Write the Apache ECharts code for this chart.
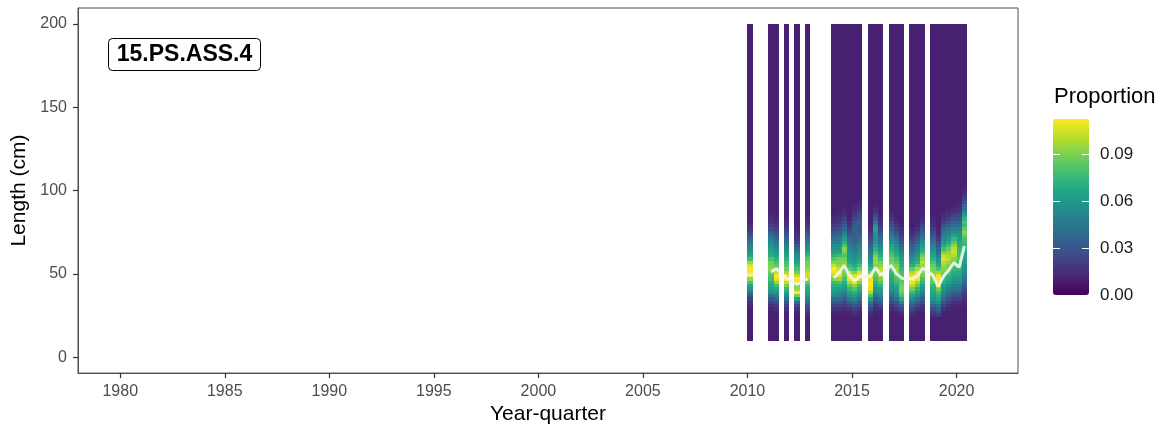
<!DOCTYPE html>
<html><head><meta charset="utf-8">
<script src="https://cdn.jsdelivr.net/npm/echarts@6/dist/echarts.min.js"></script>
<style>html,body{margin:0;padding:0;background:#fff}#c{width:1166px;height:430px}</style>
</head><body><div id="c"></div>
<script>
// ---------------- data ----------------
const quarters = ["2010 Q1","2011 Q1","2011 Q2","2011 Q4","2012 Q2","2012 Q4",
  "2014 Q1","2014 Q2","2014 Q3","2014 Q4","2015 Q1","2015 Q2","2015 Q4","2016 Q1","2016 Q2",
  "2016 Q4","2017 Q1","2017 Q2","2017 Q4","2018 Q1","2018 Q2","2018 Q4","2019 Q1","2019 Q2",
  "2019 Q3","2019 Q4","2020 Q1","2020 Q2"];
// mean length (cm) per quarter (white line)
const meanLength = [49.3, 51.2,53.1,47.2,43.6,47.2,
  47.5,50.5,55.1,49.0,45.8,48.5,48.5,53.8,49.3,
  55.1,50.1,47.4,47.0,48.8,53.3,49.1,42.4,48.6,
  52.2,56.8,53.9,66.7];
// line pieces (line is broken between pieces)
const linePiece = [0, 1,1,1,1,1, 2,2,2,2,2,2,2,2,2, 2,2,2,2,2,2,2,2,2, 2,2,2,2];
// length bins: 2 cm, from 10 to 200 cm
const binWidth = 2, lengthMin = 10, lengthMax = 200;
// proportion (per mille) outside the listed band, per quarter
const tailLevel = [10, 10,10,10,10,10, 10,10,10,10,10,10, 10,10,10, 10,10,10, 10,10,10, 10,10,10,10,10,10,10];
// proportion (per mille) from 24 cm upward in 2 cm bins; beyond the list = tail level
const bandStart = 24;
const q2010_1 = [10,10,11,13,16,20,30,45,58,66,80,95,106,112,112,106,95,78,66,60,55,50,44,36,28,22,17,14,12,11];
const q2011_1 = [10,11,13,16,22,30,42,56,64,68,72,78,82,86,92,90,88,80,70,66,62,58,54,48,40,33,27,22,18,15,13,12];
const q2011_2 = [10,12,15,20,26,36,48,60,68,78,94,108,112,102,92,84,78,72,66,60,56,50,44,38,32,27,22,18,15,13,12];
const q2011_4 = [10,12,16,22,30,42,55,66,74,88,102,112,110,98,88,82,78,72,66,60,54,48,42,37,32,26,21,17,14,12];
const q2012_2 = [10,12,16,25,40,64,88,112,95,90,108,112,100,88,80,72,66,60,54,46,38,30,23,18,15,13,12];
const q2012_4 = [12,16,22,30,40,50,60,66,68,74,84,98,105,102,94,90,88,84,74,66,58,52,46,40,34,28,22,18,15,13,12];
const q2014_1 = [10,12,16,22,30,40,52,60,66,70,76,88,100,110,112,102,92,82,72,64,58,54,48,42,36,30,25,20,16,14,12];
const q2014_2 = [10,12,16,22,30,40,50,58,64,70,80,96,108,112,104,95,90,88,76,66,60,56,50,44,38,32,27,22,18,15,13,12];
const q2014_3 = [10,11,14,18,24,32,42,52,60,66,70,78,86,90,88,94,92,88,80,88,92,80,70,62,54,46,38,32,26,21,17,14,12];
const q2014_4 = [10,12,16,24,34,46,58,66,74,84,98,110,112,100,84,74,68,64,60,56,52,48,44,38,32,26,21,17,14,12];
const q2015_1 = [12,16,22,30,40,52,62,72,82,94,108,112,106,90,76,68,62,58,54,50,46,42,38,34,32,34,36,32,28,24,19,16,13,12];
const q2015_2 = [10,12,16,24,32,42,52,62,70,78,90,106,112,106,90,78,70,64,60,56,52,48,44,40,36,33,30,34,36,30,26,21,17,14,12];
const q2015_4 = [12,16,24,34,46,62,80,98,108,112,112,110,102,88,76,66,60,55,50,45,40,35,30,25,20,16,13,12];
const q2016_1 = [10,11,14,18,24,32,42,52,60,66,72,78,84,88,88,92,96,94,88,80,72,66,60,56,54,60,64,56,44,32,24,18,14,12];
const q2016_2 = [10,12,16,24,32,42,52,60,66,74,82,90,100,104,100,94,88,78,70,64,58,52,46,40,34,28,23,18,15,13,12];
const q2016_4 = [10,11,14,18,24,32,42,50,56,60,64,68,72,76,82,88,90,88,82,76,70,64,58,52,46,40,34,28,23,18,14,12];
const q2017_1 = [10,12,17,24,32,42,52,58,62,68,74,80,86,90,94,90,84,78,72,66,60,54,48,42,35,28,22,18,14,12];
const q2017_2 = [12,16,24,36,52,68,80,86,90,88,84,82,80,78,74,70,66,62,56,50,44,38,32,26,21,17,14,12];
const q2017_4 = [12,16,24,32,42,54,64,76,88,100,110,112,108,98,84,70,62,56,50,44,38,32,26,21,17,14,12];
const q2018_1 = [10,12,17,24,32,42,54,64,72,84,96,110,112,110,98,84,72,66,60,54,48,42,36,30,24,19,15,12];
const q2018_2 = [10,11,14,18,24,32,42,50,58,64,72,80,88,94,92,96,100,94,86,76,68,62,56,48,40,34,28,22,17,14,12];
const q2018_4 = [14,20,28,38,50,58,64,66,70,76,84,88,92,94,90,86,80,72,66,60,54,48,42,36,30,24,19,15,13,12];
const q2019_1 = [20,26,34,44,54,64,70,78,88,100,110,112,110,96,80,68,60,54,48,42,36,30,24,19,16,13,12];
const q2019_2 = [10,12,16,22,30,38,46,54,60,64,70,76,82,88,92,96,100,106,102,90,78,68,60,54,48,42,35,28,22,17,14,12];
const q2019_3 = [10,11,13,16,21,28,36,44,50,56,62,68,74,80,86,90,96,100,98,94,86,78,68,60,54,48,42,35,28,22,17,14,12];
const q2019_4 = [10,10,11,13,16,20,26,34,42,48,54,60,66,70,76,80,86,92,98,104,102,94,84,74,64,56,48,42,35,28,22,17,14,12];
const q2020_1 = [10,10,11,13,16,20,26,34,42,48,54,60,64,68,72,76,78,80,78,76,74,70,66,62,58,54,48,42,36,30,24,19,15,13,12];
const q2020_2 = [10,10,10,11,12,14,17,21,26,32,38,44,48,52,56,60,64,66,68,70,72,74,76,80,86,94,84,76,80,72,62,52,44,36,29,23,18,14,12];
const bandProportion = [q2010_1,q2011_1,q2011_2,q2011_4,q2012_2,q2012_4,q2014_1,q2014_2,q2014_3,q2014_4,
  q2015_1,q2015_2,q2015_4,q2016_1,q2016_2,q2016_4,q2017_1,q2017_2,q2017_4,q2018_1,q2018_2,
  q2018_4,q2019_1,q2019_2,q2019_3,q2019_4,q2020_1,q2020_2];
const xTicks = [1980,1985,1990,1995,2000,2005,2010,2015,2020];
const yTicks = [0,50,100,150,200];
const legendTicks = [0,0.03,0.06,0.09];
const legendMax = 0.1123;
const panelLabel = "15.PS.ASS.4";

// ---------------- build ----------------
function qStart(lbl){ const m = lbl.match(/(\d{4}) Q(\d)/); return +m[1] + (+m[2]-1)/4; }
const cells = [];
quarters.forEach((q,i)=>{
  const x = qStart(q);
  for(let L = lengthMin; L < lengthMax; L += binWidth){
    const k = (L - bandStart)/binWidth;
    const band = bandProportion[i];
    const v = (k >= 0 && k < band.length) ? band[k] : tailLevel[i];
    cells.push([x, L, v/1000]);
  }
});
const pieces = {};
quarters.forEach((q,i)=>{
  (pieces[linePiece[i]] = pieces[linePiece[i]] || []).push([qStart(q)+0.125, meanLength[i]]);
});
const viridis = ['#440154','#482475','#414487','#355f8d','#2a788e','#21918c','#22a884','#44bf70','#7ad151','#bddf26','#fde725'];
const FONT = 'Liberation Sans, Arial, Helvetica, sans-serif';
const LINE_COLOR = 'rgba(240,245,245,0.9)';
const lineSeries = [];
Object.keys(pieces).forEach(k=>{
  const d = pieces[k];
  if(d.length > 1){
    lineSeries.push({type:'line', data:d, showSymbol:false, silent:true, z:5,
      lineStyle:{color:LINE_COLOR, width:3}});
  } else {
    lineSeries.push({type:'scatter', data:d, symbol:'rect', symbolSize:[6,3], silent:true, z:5,
      itemStyle:{color:LINE_COLOR}});
  }
});

const chart = echarts.init(document.getElementById('c'), null, {renderer:'canvas'});
chart.setOption({
  animation:false,
  backgroundColor:'#fff',
  textStyle:{fontFamily:FONT},
  grid:[
    {left:78, top:8, width:940, height:367, show:true, borderColor:'#4d4d4d', borderWidth:1, backgroundColor:'#fff'},
    {left:1053, top:119, width:36, height:176, show:false}
  ],
  xAxis:[
    {type:'value', gridIndex:0, min:1977.98, max:2022.94, position:'bottom',
     name:'Year-quarter', nameLocation:'middle', nameGap:28,
     nameTextStyle:{fontSize:21, color:'#000', fontFamily:FONT},
     axisLine:{show:true, onZero:false, lineStyle:{color:'#4d4d4d', width:1}}, splitLine:{show:false},
     axisTick:{show:true, length:5, customValues:xTicks, lineStyle:{color:'#333', width:1.2}},
     axisLabel:{customValues:xTicks, formatter:v=>String(v), fontSize:16, color:'#4d4d4d', margin:10, fontFamily:FONT}},
    {type:'value', gridIndex:1, min:0, max:1, show:false}
  ],
  yAxis:[
    {type:'value', gridIndex:0, min:-9.55, max:209.55, position:'left',
     name:'Length (cm)', nameLocation:'middle', nameGap:40, nameRotate:90,
     nameTextStyle:{fontSize:21, color:'#000', fontFamily:FONT},
     axisLine:{show:true, onZero:false, lineStyle:{color:'#4d4d4d', width:1}}, splitLine:{show:false},
     axisTick:{show:true, length:5, customValues:yTicks, lineStyle:{color:'#333', width:1.2}},
     axisLabel:{customValues:yTicks, formatter:v=>String(v), fontSize:16, color:'#4d4d4d', margin:11, fontFamily:FONT}},
    {type:'value', gridIndex:1, min:0, max:legendMax, position:'right', zlevel:1, z:10,
     axisLine:{show:false, onZero:false}, splitLine:{show:false},
     axisTick:{show:true, inside:true, length:7, customValues:legendTicks.slice(1), lineStyle:{color:'#fff', width:1}},
     axisLabel:{customValues:legendTicks, formatter:v=>v.toFixed(2), fontSize:17, color:'#1a1a1a', margin:11, fontFamily:FONT}},
    {type:'value', gridIndex:1, min:0, max:legendMax, position:'left', zlevel:1, z:10,
     axisLine:{show:false, onZero:false}, splitLine:{show:false},
     axisTick:{show:true, inside:true, length:7, customValues:legendTicks.slice(1), lineStyle:{color:'#fff', width:1}},
     axisLabel:{show:false}}
  ],
  visualMap:{
    type:'continuous', min:0, max:legendMax, dimension:2, seriesIndex:0,
    inRange:{color:viridis}, calculable:false, show:true, orient:'vertical',
    left:1053, top:119, itemWidth:36, itemHeight:176, padding:0, text:null,
    textStyle:{color:'transparent'}
  },
  graphic:[
    {type:'text', left:1054, top:86, style:{text:'Proportion', fill:'#000', font:'22px '+FONT}},
    {type:'group', left:108, top:38, children:[
      {type:'rect', shape:{x:0, y:0, width:152, height:32, r:4}, style:{fill:'#fff', stroke:'#000', lineWidth:1}},
      {type:'text', x:76, y:16, style:{text:panelLabel, fill:'#000', font:'bold 23px '+FONT, align:'center', verticalAlign:'middle'}}
    ]}
  ],
  series:[
    {type:'custom', xAxisIndex:0, yAxisIndex:0, data:cells, encode:{x:0, y:1}, progressive:0, silent:true, clip:true,
     renderItem:function(params, api){
       const x0 = api.value(0), y0 = api.value(1);
       const p0 = api.coord([x0, y0]);
       const p1 = api.coord([x0 + 0.25, y0 + binWidth]);
       const l = Math.round(p0[0]), r = Math.round(p1[0]);
       const t = Math.round(p1[1]), b = Math.round(p0[1]);
       return {type:'rect', shape:{x:l, y:t, width:r-l, height:b-t}, style:{fill:api.visual('color')}};
     }}
  ].concat(lineSeries)
});
</script></body></html>
